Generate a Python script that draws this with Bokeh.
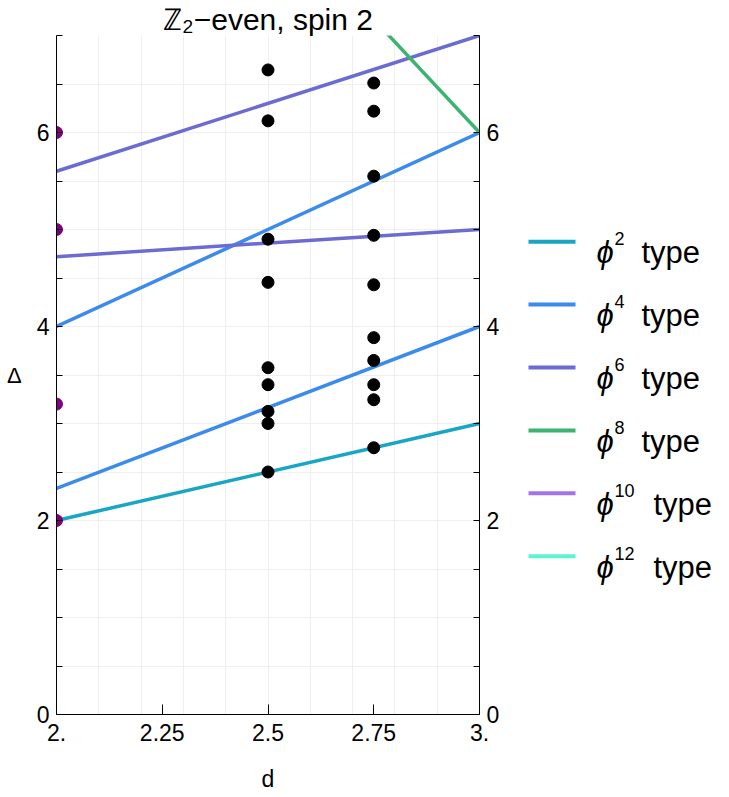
from bokeh.plotting import figure
from bokeh.layouts import row
from bokeh.models import FixedTicker, LinearAxis, Range1d
from bokeh.core.properties import value
from bokeh.embed import file_html
from bokeh.resources import INLINE

# ---- data ----
phi2_d = [2, 3]
phi2_delta = [2, 3]

phi4a_d = [2, 3]
phi4a_delta = [2.33, 4]
phi4b_d = [2, 3]
phi4b_delta = [4, 6]

phi6a_d = [2, 3]
phi6a_delta = [4.72, 5]
phi6b_d = [2, 3]
phi6b_delta = [5.6, 7]

phi8_d = [2, 3]
phi8_delta = [10.67, 6]

free_d = [2, 2, 2, 2]
free_delta = [2, 3.2, 5, 6]

pts25_delta = [2.5, 3.0, 3.125, 3.4, 3.575, 4.455, 4.9, 6.12, 6.645]
pts275_delta = [2.75, 3.245, 3.40, 3.65, 3.885, 4.43, 4.94, 5.55, 6.22, 6.51]

x_ticks = [2, 2.25, 2.5, 2.75, 3]
x_tick_labels = ["2.", "2.25", "2.5", "2.75", "3."]
y_ticks = [0, 2, 4, 6]
y_minor = [0.5, 1, 1.5, 2.5, 3, 3.5, 4.5, 5, 5.5, 6.5, 7]
x_grid = [2.1, 2.2, 2.3, 2.4, 2.5, 2.6, 2.7, 2.8, 2.9]
y_grid = [0.5, 1, 1.5, 2, 2.5, 3, 3.5, 4, 4.5, 5, 5.5, 6, 6.5]

legend_powers = ["2", "4", "6", "8", "10", "12"]
colors = ["#19a6c4", "#3b8bec", "#6b6bd1", "#3cb371", "#a374e8", "#5cf5d2"]

FONT = "Liberation Sans"
W_MAIN, W_LEG, H = 509, 220, 797
TOP, BOTTOM = 34, 83

p = figure(width=W_MAIN, height=H, output_backend="svg", toolbar_location=None,
           x_range=Range1d(2, 3), y_range=Range1d(0, 7),
           min_border_left=56, min_border_right=30, min_border_top=TOP, min_border_bottom=BOTTOM,
           x_axis_label="d", y_axis_label="Δ", title="ℤ₂−even, spin 2")
p.outline_line_color = None
p.background_fill_color = "white"
p.border_fill_color = "white"

p.title.text_font = FONT
p.title.text_font_size = "30px"
p.title.text_font_style = "normal"
p.title.align = "center"
p.title.text_color = "black"
p.title.offset = 0
p.title.standoff = 0
if "text_line_height" in p.title.properties():
    p.title.text_line_height = 1.0

# x axis
xa = p.below[0]
xa.ticker = FixedTicker(ticks=x_ticks)
xa.major_label_overrides = {float(k): v for k, v in zip(x_ticks, x_tick_labels)}
xa.major_tick_in = 10
xa.major_tick_out = 0
xa.minor_tick_line_color = None
xa.major_label_text_font = FONT
xa.major_label_text_font_size = "23px"
xa.major_label_standoff = 9
xa.axis_label_text_font = FONT
xa.axis_label_text_font_size = "23px"
xa.axis_label_text_font_style = "normal"
xa.axis_label_standoff = 22
xa.axis_line_color = "black"
xa.major_tick_line_color = "black"
xa.major_label_text_color = "black"
xa.axis_label_text_color = "black"

def style_y(ax):
    ax.ticker = FixedTicker(ticks=y_ticks, minor_ticks=y_minor)
    ax.major_tick_in = 6
    ax.major_tick_out = 0
    ax.minor_tick_in = 6
    ax.minor_tick_out = 0
    ax.major_label_text_font = FONT
    ax.major_label_text_font_size = "23px"
    ax.major_label_standoff = 7
    ax.axis_line_color = "black"
    ax.major_tick_line_color = "black"
    ax.minor_tick_line_color = "black"
    ax.major_label_text_color = "black"

ya = p.left[0]
style_y(ya)
ya.axis_label_text_font = FONT
ya.axis_label_text_font_size = "22px"
ya.axis_label_text_font_style = "normal"
ya.axis_label_text_color = "black"
ya.axis_label_standoff = 12
if "axis_label_orientation" in ya.properties():
    ya.axis_label_orientation = "horizontal"

ra = LinearAxis()
style_y(ra)
p.add_layout(ra, "right")

p.xgrid.ticker = FixedTicker(ticks=x_grid)
p.ygrid.ticker = FixedTicker(ticks=y_grid)
p.xgrid.grid_line_color = "#efefef"
p.ygrid.grid_line_color = "#efefef"

LW = 3.5
p.line(phi2_d, phi2_delta, line_color=colors[0], line_width=LW)
p.line(phi4a_d, phi4a_delta, line_color=colors[1], line_width=LW)
p.line(phi4b_d, phi4b_delta, line_color=colors[1], line_width=LW)
p.line(phi6a_d, phi6a_delta, line_color=colors[2], line_width=LW)
p.line(phi6b_d, phi6b_delta, line_color=colors[2], line_width=LW)
p.line(phi8_d, phi8_delta, line_color=colors[3], line_width=LW)

p.scatter(free_d, free_delta, size=12, fill_color="#800080", line_color="#800080")
p.scatter([2.5] * len(pts25_delta), pts25_delta, size=12, fill_color="black", line_color="black")
p.scatter([2.75] * len(pts275_delta), pts275_delta, size=12, fill_color="black", line_color="black")

# ---- legend panel (frame aligned with main frame; coordinates = page pixels) ----
lg = figure(width=W_LEG, height=H, output_backend="svg", toolbar_location=None,
            x_range=Range1d(W_MAIN, W_MAIN + W_LEG), y_range=Range1d(H - BOTTOM, TOP),
            x_axis_type=None, y_axis_type=None,
            min_border_left=0, min_border_right=0, min_border_top=TOP, min_border_bottom=BOTTOM)
lg.outline_line_color = None
lg.grid.grid_line_color = None
lg.background_fill_color = "white"
lg.border_fill_color = "white"

n = len(legend_powers)
row_y = [240.5 + 63.0 * i for i in range(n)]
lg.segment(x0=[528] * n, y0=row_y, x1=[575] * n, y1=row_y, line_color=colors, line_width=4)
lg.text(x=[596] * n, y=[yy + 11 for yy in row_y], text=["ϕ"] * n,
        text_font=value(FONT), text_font_size=value("31px"), text_font_style="italic",
        text_baseline="alphabetic", text_align="left", text_color="black")
lg.text(x=[614] * n, y=[yy - 3 for yy in row_y], text=legend_powers,
        text_font=value(FONT), text_font_size=value("18px"),
        text_baseline="alphabetic", text_align="left", text_color="black")
lg.text(x=[641 if len(s) == 1 else 653 for s in legend_powers], y=[yy + 11 for yy in row_y],
        text=["type"] * n, text_font=value(FONT), text_font_size=value("31px"),
        text_baseline="alphabetic", text_align="left", text_color="black")

layout = row(p, lg)
open("out.html", "w").write(file_html(layout, INLINE))
